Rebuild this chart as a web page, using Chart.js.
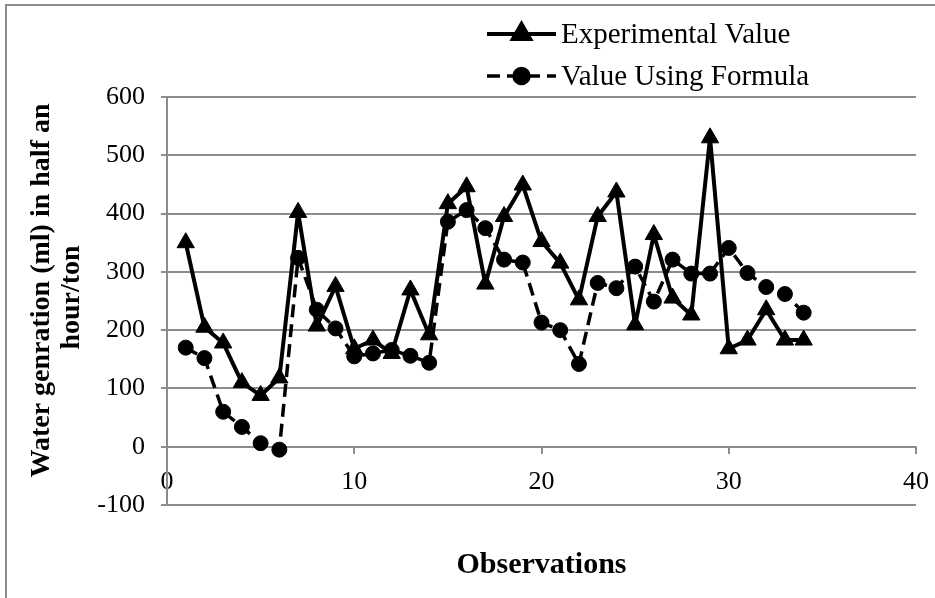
<!DOCTYPE html>
<html>
<head>
<meta charset="utf-8">
<title>Water generation: experimental vs formula</title>
<script src="https://cdn.jsdelivr.net/npm/chart.js@4.4.1/dist/chart.umd.min.js"></script>
<style>
  html, body { margin: 0; padding: 0; background: #ffffff; }
  #wrap { position: relative; width: 935px; height: 598px; overflow: hidden; }
  #frame { position: absolute; left: 5px; top: 4px; width: 2000px; height: 2000px;
           border-left: 2px solid #8c8c8c; border-top: 2px solid #8c8c8c; }
  #myChart { position: absolute; left: 0; top: 0; }
</style>
</head>
<body>
<div id="wrap">
  <div id="frame"></div>
  <canvas id="myChart" width="935" height="598"></canvas>
</div>
<script>
// Observation numbers (x values)
const observations = [1, 2, 3, 4, 5, 6, 7, 8, 9, 10, 11, 12, 13, 14, 15, 16, 17,
  18, 19, 20, 21, 22, 23, 24, 25, 26, 27, 28, 29, 30, 31, 32, 33, 34];

const experimentalValues = [350, 205, 178, 110, 88, 118, 402, 207, 275, 168, 183, 160, 269, 192,
  417, 446, 279, 395, 449, 352, 315, 252, 395, 437, 209, 364, 255, 226, 530, 168, 183, 235, 183, 183];
const formulaValues = [170, 152, 60, 34, 6, -5, 324, 235, 203, 155, 160, 166, 156, 144,
  386, 406, 375, 321, 316, 213, 200, 142, 281, 272, 309, 249, 321, 297, 297, 341, 298, 274, 262, 230];

const seriesNames = ['Experimental Value', 'Value Using Formula'];
// leading no-break spaces nudge the rotated title a little upward, as in the original
const yTitle = ['\u00a0\u00a0\u00a0Water genration (ml) in half an', '\u00a0hour/ton'];
const xTitle = 'Observations';

const SERIF = "'Liberation Serif', 'Times New Roman', serif";
const GRID = '#8c8c8c';

const toPoints = vals => vals.map((v, i) => ({ x: observations[i], y: v }));

// Excel-style legend: short line with the marker in its middle, stacked rows
const stackedLegend = {
  id: 'stackedLegend',
  afterDraw(chart) {
    const ctx = chart.ctx;
    const rows = [34, 76];
    chart.data.datasets.forEach((ds, i) => {
      const y = rows[i];
      ctx.save();
      ctx.strokeStyle = ds.borderColor;
      ctx.lineWidth = ds.borderWidth;
      ctx.setLineDash(ds.borderDash || []);
      ctx.beginPath();
      ctx.moveTo(487, y);
      ctx.lineTo(556, y);
      ctx.stroke();
      ctx.setLineDash([]);
      ctx.fillStyle = ds.pointBackgroundColor;
      ctx.strokeStyle = ds.pointBorderColor;
      Chart.helpers.drawPoint(ctx, {
        pointStyle: ds.pointStyle,
        radius: ds.pointRadius,
        borderWidth: 1,
        rotation: 0
      }, 521.5, y);
      ctx.fillStyle = '#000';
      ctx.font = '29px ' + SERIF;
      ctx.textBaseline = 'middle';
      ctx.textAlign = 'left';
      ctx.fillText(ds.label, 561, y + 1);
      ctx.restore();
    });
  }
};

const config = {
  type: 'line',
  data: {
    datasets: [
      {
        label: seriesNames[0],
        data: toPoints(experimentalValues),
        borderColor: '#000',
        borderWidth: 4,
        borderJoinStyle: 'round',
        pointStyle: 'triangle',
        pointRadius: 10,
        pointBorderWidth: 1,
        pointBackgroundColor: '#000',
        pointBorderColor: '#000',
        tension: 0,
        order: 2
      },
      {
        label: seriesNames[1],
        data: toPoints(formulaValues),
        borderColor: '#000',
        borderWidth: 3.5,
        borderDash: [13, 7],
        borderJoinStyle: 'round',
        pointStyle: 'circle',
        pointRadius: 7.5,
        pointBorderWidth: 1,
        pointBackgroundColor: '#000',
        pointBorderColor: '#000',
        tension: 0,
        order: 1
      }
    ]
  },
  options: {
    responsive: false,
    animation: false,
    devicePixelRatio: 1,
    layout: { padding: { left: 0, top: 97, right: 19, bottom: 0 } },
    plugins: {
      legend: { display: false },
      tooltip: { enabled: false }
    },
    scales: {
      x: {
        type: 'linear',
        position: { y: 0 },
        min: 0,
        max: 40,
        ticks: {
          stepSize: 10,
          color: '#000',
          padding: 14,
          font: { family: SERIF, size: 26 }
        },
        grid: { drawOnChartArea: false, drawTicks: true, tickLength: 6, color: GRID, lineWidth: 2 },
        border: { display: true, color: GRID, width: 2 },
        // the "40" label may hang past the plot edge, like in the original
        afterFit(scale) { scale.paddingLeft = 0; scale.paddingRight = 0; }
      },
      xTitle: {
        type: 'linear',
        axis: 'x',
        position: 'bottom',
        min: 0,
        max: 40,
        ticks: { display: false },
        grid: { display: false },
        border: { display: false },
        title: {
          display: true,
          text: xTitle,
          color: '#000',
          font: { family: SERIF, size: 30, weight: 'bold', lineHeight: 1.2 },
          padding: { top: 0, bottom: 15 }
        },
        afterFit(scale) { scale.height = 93; }
      },
      y: {
        type: 'linear',
        position: 'left',
        min: -100,
        max: 600,
        ticks: {
          stepSize: 100,
          color: '#000',
          padding: 16,
          font: { family: SERIF, size: 26 }
        },
        grid: { color: GRID, lineWidth: 2, drawTicks: true, tickLength: 6 },
        border: { display: true, color: GRID, width: 2 },
        title: {
          display: true,
          text: yTitle,
          color: '#000',
          font: { family: SERIF, size: 28, weight: 'bold', lineHeight: 1.07 },
          padding: { top: 27, bottom: 0 }
        },
        afterFit(scale) { scale.width = 167; }
      }
    }
  },
  plugins: [stackedLegend]
};

const canvas = document.getElementById('myChart');
const chart = new Chart(canvas.getContext('2d'), config);
</script>
</body>
</html>
